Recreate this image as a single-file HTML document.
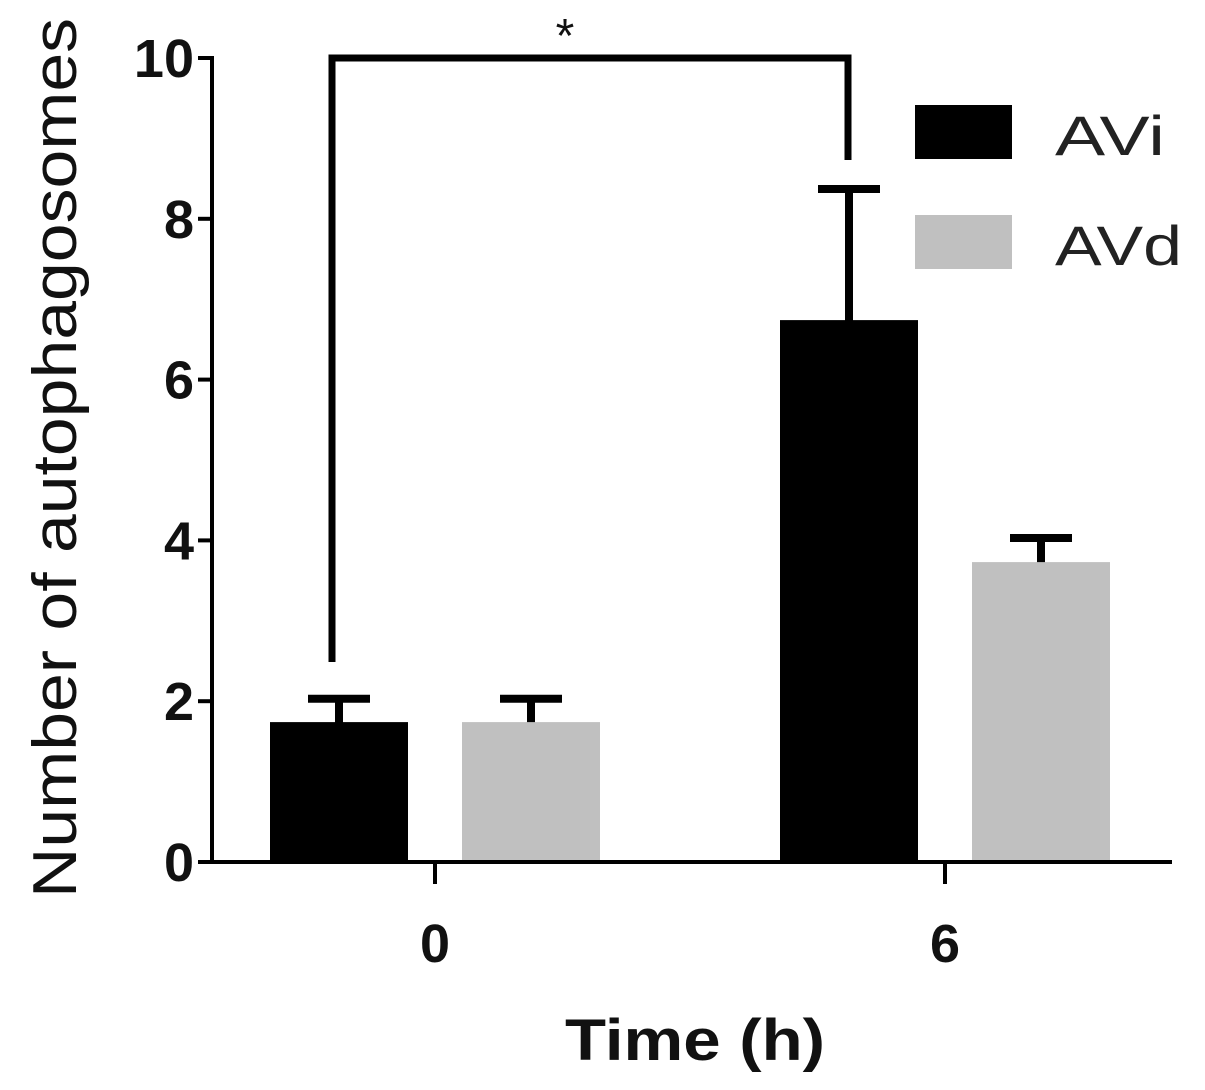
<!DOCTYPE html>
<html><head><meta charset="utf-8"><style>
html,body{margin:0;padding:0;background:#fff;}
svg{display:block;font-family:"Liberation Sans",Arial,sans-serif;}
</style></head><body>
<svg id="chart" width="1205" height="1090" viewBox="0 0 1205 1090"></svg>
<script>
const categories = ["0","6"];
const seriesNames = ["AVi","AVd"];
const aviValues = [1.74, 6.74];
const avdValues = [1.74, 3.73];
const aviErrors = [0.29, 1.63];
const avdErrors = [0.29, 0.30];
const yTicks = [0,2,4,6,8,10];

const svg = document.getElementById('chart');
const NS = 'http://www.w3.org/2000/svg';
function mk(tag, attrs, parent){
  const e = document.createElementNS(NS, tag);
  for (const k in attrs) e.setAttribute(k, attrs[k]);
  (parent||svg).appendChild(e);
  return e;
}
const x0 = 212, x1 = 1172, yBase = 862, yTop = 58;
function yScale(v){ return yBase - (yBase - yTop) * v / 10; }
const catCenters = [435, 945];
function xScale(i){ return catCenters[i]; }
const barW = 138, barOff = [-96, 96];
const colors = ["#000000","#c0c0c0"];
const vals = [aviValues, avdValues];
const errs = [aviErrors, avdErrors];

for (let s=0;s<2;s++){
  for (let i=0;i<categories.length;i++){
    const cx = xScale(i) + barOff[s];
    const top = yScale(vals[s][i]);
    const et = yScale(vals[s][i] + errs[s][i]);
    const g = mk('g',{stroke:'#000','stroke-width':8});
    
    
    mk('line',{x1:cx,x2:cx,y1:top+4,y2:et},g);
    mk('line',{x1:cx-31,x2:cx+31,y1:et,y2:et},g);
    const r = mk('rect',{x:cx-barW/2,y:top,width:barW,height:yBase-top,fill:colors[s]});
    
    
  }
}

const ax = mk('g',{stroke:'#000','stroke-width':4});


mk('line',{x1:x0,x2:x0,y1:yTop-2,y2:yBase+2},ax);
mk('line',{x1:x0-2,x2:x1,y1:yBase,y2:yBase},ax);
yTicks.forEach(v=>{
  const y = yScale(v);
  mk('line',{x1:x0-14,x2:x0,y1:y,y2:y},ax);
  const t = mk('text',{x:194,y:y+19,'text-anchor':'end','font-size':54,'font-weight':'bold',fill:'#111'});
  t.textContent = v;
  
  
});
categories.forEach((c,i)=>{
  const x = xScale(i);
  mk('line',{x1:x,x2:x,y1:yBase,y2:yBase+22},ax);
  const t = mk('text',{x:x,y:962,'text-anchor':'middle','font-size':54,'font-weight':'bold',fill:'#111'});
  t.textContent = c;
  
  
});

const yt = mk('text',{x:0,y:0,transform:'translate(76,458) rotate(-90)','text-anchor':'middle','font-size':62,fill:'#111',textLength:880,lengthAdjust:'spacingAndGlyphs'});
yt.textContent = 'Number of autophagosomes';


const xt = mk('text',{x:695,y:1060,'text-anchor':'middle','font-size':58,'font-weight':'bold',fill:'#111',textLength:260,lengthAdjust:'spacingAndGlyphs'});
xt.textContent = 'Time (h)';



const br = mk('polyline',{points:'332,662 332,58 848,58 848,160',fill:'none',stroke:'#000','stroke-width':7});


const st = mk('text',{x:565,y:52,'text-anchor':'middle','font-size':48,fill:'#111'});
st.textContent = '*';



const legY = [105, 215];
const legW = [110, 127];
for (let s=0;s<2;s++){
  const g = mk('g',{});
  
  
  mk('rect',{x:915,y:legY[s],width:97,height:54,fill:colors[s]},g);
  const t = mk('text',{x:1055,y:legY[s]+50,'font-size':56,fill:'#222',textLength:legW[s],lengthAdjust:'spacingAndGlyphs'},g);
  t.textContent = seriesNames[s];
}
</script>
</body></html>
